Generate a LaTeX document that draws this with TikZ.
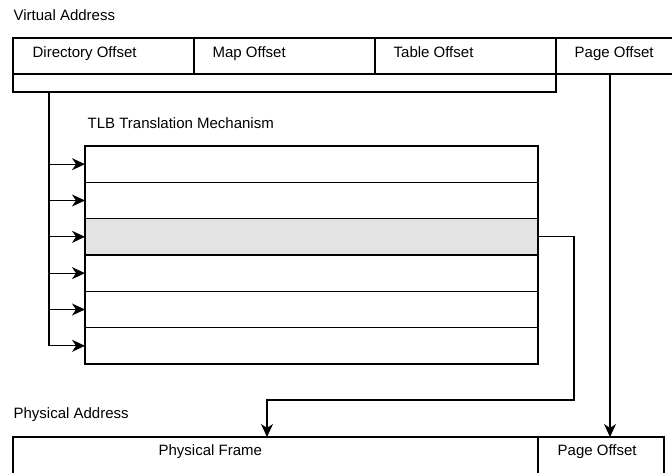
\documentclass[tikz,border=0pt]{standalone}
\usepackage{fontspec}
\setmainfont{Liberation Sans}
\usetikzlibrary{arrows.meta,calc}
\begin{document}
\begin{tikzpicture}[x=1pt,y=-1pt,
  line width=1.3pt,
  cell/.style={draw, rectangle, inner sep=0pt, outer sep=0pt, anchor=north west},
  tlbrow/.style={cell, minimum width=453pt, minimum height=36.33pt},
  hot/.style={fill=black!11},
  lbl/.style={anchor=base west, inner sep=0pt, font=\fontsize{15}{18}\selectfont},
  arr/.style={-{Stealth[length=13pt,width=12pt,inset=4pt]}}]
\useasboundingbox (0,0) rectangle (672,472);
\clip (0,0) rectangle (672,472);

% virtual address fields
\node[lbl] (vatitle) at (13,20) {Virtual Address};
\node[cell, minimum width=181pt, minimum height=36pt] (dir) at (13,38) {};
\node[cell, minimum width=181pt, minimum height=36pt] (map) at (194,38) {};
\node[cell, minimum width=181pt, minimum height=36pt] (tab) at (375,38) {};
\node[cell, minimum width=130pt, minimum height=36pt] (pg)  at (556,38) {};
\node[cell, minimum width=543pt, minimum height=18pt] (strip) at (13,74) {};
\node[lbl] (tdir) at (32,57) {Directory Offset};
\node[lbl] (tmap) at (212,57) {Map Offset};
\node[lbl] (ttab) at (393,57) {Table Offset};
\node[lbl] (tpg)  at (574,57) {Page Offset};

% TLB entries
\node[lbl] (tlbtitle) at (87,128) {TLB Translation Mechanism};
\node[tlbrow] (r1) at (85,146) {};
\node[tlbrow] (r2) at (r1.south west) {};
\node[tlbrow, hot] (r3) at (r2.south west) {};
\node[tlbrow] (r4) at (r3.south west) {};
\node[tlbrow] (r5) at (r4.south west) {};
\node[tlbrow] (r6) at (r5.south west) {};

% physical address fields
\node[lbl] (patitle) at (13,418) {Physical Address};
\node[cell, minimum width=525pt, minimum height=40pt] (frame) at (13,437) {};
\node[cell, minimum width=126pt, minimum height=40pt] (poff) at (538,437) {};
\node[lbl] (tframe) at (158,455) {Physical Frame};
\node[lbl] (tpoff)  at (557,455) {Page Offset};

% lookup bus feeding every TLB entry
\coordinate (bus) at ($(strip.south west)+(36,0)$);
\draw[arr] (bus) |- (r6.west);
\foreach \r in {r1,r2,r3,r4,r5}
  \draw[arr] (bus |- \r.west) -- (\r.west);

% page offset copied straight through
\coordinate (pgsrc) at ($(pg.south west)+(54,0)$);
\draw[arr] (pgsrc) -- (pgsrc |- poff.north);

% matching entry supplies the physical frame
\coordinate (fin) at ($(frame.north west)+(254,0)$);
\draw[arr] (r3.east) -- ++(36,0) |- ($(fin)+(0,-37)$) -- (fin);
\end{tikzpicture}
\end{document}
